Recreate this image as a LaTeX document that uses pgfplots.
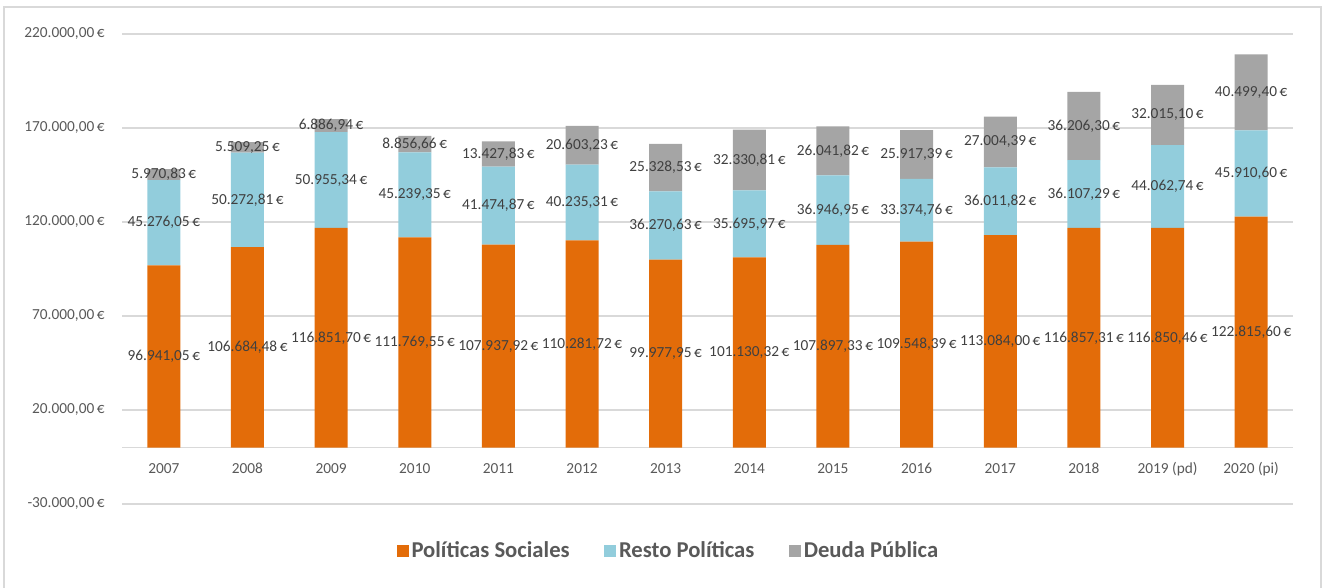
\documentclass[border=0pt]{standalone}
\usepackage{pgfplots}
\pgfplotsset{compat=1.18}
\usepackage{pgfplotstable}
\usepackage{fontspec}
\setmainfont{Carlito}
\definecolor{cOr}{HTML}{E36C09}
\definecolor{cBl}{HTML}{92CDDC}
\definecolor{cGr}{HTML}{A5A5A5}
\definecolor{cGrid}{HTML}{D9D9D9}
\definecolor{cTick}{HTML}{595959}
\definecolor{cLab}{HTML}{404040}

\pgfplotstableread{
x y label
0 96941.05 {96.941,05}
1 106684.48 {106.684,48}
2 116851.70 {116.851,70}
3 111769.55 {111.769,55}
4 107937.92 {107.937,92}
5 110281.72 {110.281,72}
6 99977.95 {99.977,95}
7 101130.32 {101.130,32}
8 107897.33 {107.897,33}
9 109548.39 {109.548,39}
10 113084.00 {113.084,00}
11 116857.31 {116.857,31}
12 116850.46 {116.850,46}
13 122815.60 {122.815,60}
}\sociales

\pgfplotstableread{
x y label
0 45276.05 {45.276,05}
1 50272.81 {50.272,81}
2 50955.34 {50.955,34}
3 45239.35 {45.239,35}
4 41474.87 {41.474,87}
5 40235.31 {40.235,31}
6 36270.63 {36.270,63}
7 35695.97 {35.695,97}
8 36946.95 {36.946,95}
9 33374.76 {33.374,76}
10 36011.82 {36.011,82}
11 36107.29 {36.107,29}
12 44062.74 {44.062,74}
13 45910.60 {45.910,60}
}\resto

\pgfplotstableread{
x y label
0 5970.83 {5.970,83}
1 5509.25 {5.509,25}
2 6886.94 {6.886,94}
3 8856.66 {8.856,66}
4 13427.83 {13.427,83}
5 20603.23 {20.603,23}
6 25328.53 {25.328,53}
7 32330.81 {32.330,81}
8 26041.82 {26.041,82}
9 25917.39 {25.917,39}
10 27004.39 {27.004,39}
11 36206.30 {36.206,30}
12 32015.10 {32.015,10}
13 40499.40 {40.499,40}
}\deuda

\begin{document}
\begin{tikzpicture}[x=1pt,y=1pt]
\path[use as bounding box] (0,0) rectangle (996.75,440.25);
\draw[cGrid, line width=1.2pt] (3.2,-3) rectangle (990.75,435);
\begin{axis}[
  at={(91.5pt,62.25pt)}, anchor=south west,
  scale only axis, width=878.25pt, height=352.5pt,
  ybar stacked, bar width=24.75pt,
  xmin=-0.5, xmax=13.5, ymin=-30000, ymax=220000,
  scaled y ticks=false,
  clip=false,
  axis line style={draw=none},
  major tick length=0pt,
  ytick={-30000,20000,70000,120000,170000,220000},
  yticklabels={{-30.000,00\,€},{20.000,00\,€},{70.000,00\,€},{120.000,00\,€},{170.000,00\,€},{220.000,00\,€}},
  ymajorgrids, grid style={cGrid, line width=1.2pt},
  extra y ticks={0}, extra y tick labels={},
  extra y tick style={grid style={cGrid, line width=1.2pt}},
  xtick={0,1,2,3,4,5,6,7,8,9,10,11,12,13},
  xticklabels={2007,2008,2009,2010,2011,2012,2013,2014,2015,2016,2017,2018,2019 (pd),2020 (pi)},
  xticklabel style={anchor=base, yshift=23.25pt},
  yticklabel style={xshift=-9.5pt},
  tick label style={font=\fontsize{11.5}{13}\selectfont, text=cTick},
  nodes near coords={\pgfplotspointmeta\,€},
  point meta=explicit symbolic,
  every node near coord/.append style={font=\fontsize{11.5}{13}\selectfont, text=cLab, anchor=center},
  legend style={at={(0.467,-0.1)}, anchor=center, draw=none, fill=none, text=cTick,
    font=\bfseries\fontsize{17}{20}\selectfont,
    /tikz/every even column/.append style={column sep=24pt}},
  legend columns=3,
  legend image code/.code={\fill[#1] (0pt,-4.5pt) rectangle (9pt,4.5pt);},
]
\addplot[fill=cOr, draw=none] table[x=x,y=y,meta=label]{\sociales};
\addplot[fill=cBl, draw=none] table[x=x,y=y,meta=label]{\resto};
\addplot[fill=cGr, draw=none] table[x=x,y=y,meta=label]{\deuda};
\legend{Políticas Sociales, Resto Políticas, Deuda Pública}
\end{axis}
\end{tikzpicture}
\end{document}
